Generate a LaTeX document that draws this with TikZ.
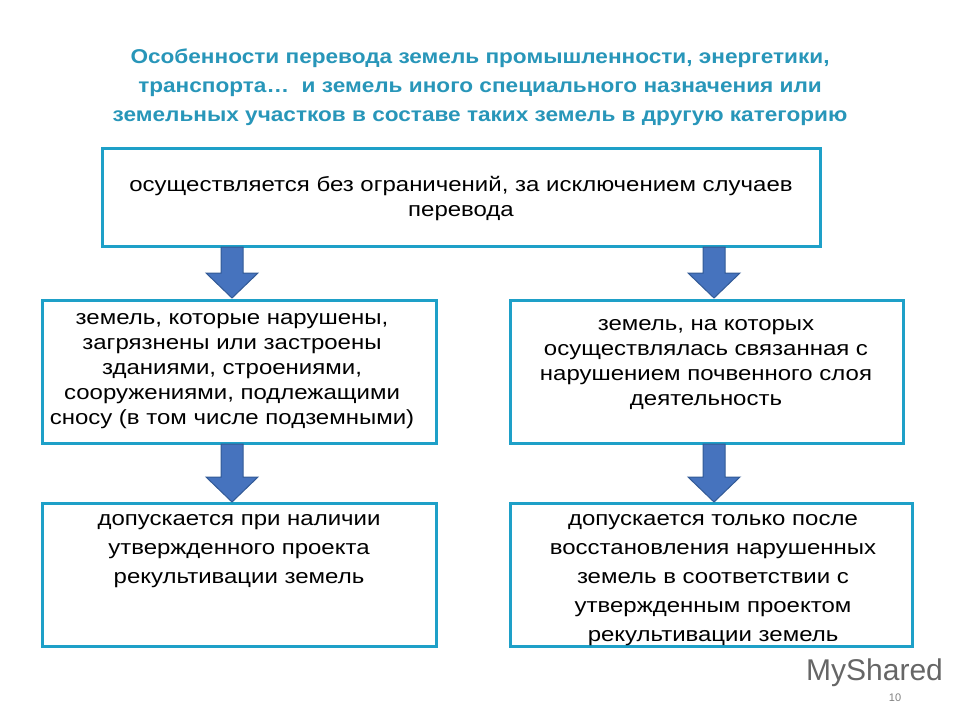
\documentclass[tikz,border=0pt]{standalone}
\usepackage{fontspec}
\setmainfont{Liberation Sans}
\begin{document}
\begin{tikzpicture}[x=1pt,y=-1pt,
  box/.style={draw=boxc,line width=3pt,fill=white},
  txt/.style={align=center,font=\fontsize{20.5}{25}\selectfont,inner sep=0pt,xscale=1.17,transform shape},
  darr/.style={fill=arrf,draw=arre,line width=1pt}]
\definecolor{boxc}{RGB}{30,160,200}
\definecolor{arrf}{RGB}{70,115,190}
\definecolor{arre}{RGB}{50,90,150}
\definecolor{titc}{RGB}{40,150,185}
\useasboundingbox (0,0) rectangle (960,720);
\node[align=center,text=titc,font=\bfseries\fontsize{20}{29}\selectfont,inner sep=0pt,xscale=1.13,transform shape] (title) at (480,87)
 {Особенности перевода земель промышленности, энергетики,\\ транспорта…\ \ и земель иного специального назначения или\\ земельных участков в составе таких земель в другую категорию};
\draw[box] (102,148) rectangle (820,246);
\node[txt] (t1) at (461,199) {осуществляется без ограничений, за исключением случаев\\ перевода};
\draw[box] (42,300) rectangle (436,443);
\node[txt] (t2) at (232,371) {земель, которые нарушены,\\ загрязнены или застроены\\ зданиями, строениями,\\ сооружениями, подлежащими\\ сносу (в том числе подземными)};
\draw[box] (510,300) rectangle (903,443);
\node[txt] (t3) at (706,365) {земель, на которых\\ осуществлялась связанная с\\ нарушением почвенного слоя\\ деятельность};
\draw[box] (42,503) rectangle (436,646);
\node[txt,anchor=north,font=\fontsize{20.5}{29}\selectfont] (t4) at (239,514) {допускается при наличии\\ утвержденного проекта\\ рекультивации земель};
\draw[box] (510,503) rectangle (912,646);
\node[txt,anchor=north,font=\fontsize{20.5}{29}\selectfont] (t5) at (713,514) {допускается только после\\ восстановления нарушенных\\ земель в соответствии с\\ утвержденным проектом\\ рекультивации земель};
\foreach \cx/\ya/\yb in {232/247/298, 714/247/298, 232/444/502, 714/444/502}{
  \pgfmathsetmacro\yh{\yb-25}
  \draw[darr] (\cx-11,\ya) -- (\cx+11,\ya) -- (\cx+11,\yh) -- (\cx+26,\yh) -- (\cx,\yb) -- (\cx-26,\yh) -- (\cx-11,\yh) -- cycle;
}
\node[text=gray!80!black,font=\fontsize{30}{30}\selectfont,inner sep=0pt,anchor=west] (wm) at (806,673) {MyShared};
\node[text=gray,font=\fontsize{11}{11}\selectfont,inner sep=0pt] (pg) at (895,698) {10};
\end{tikzpicture}
\end{document}
